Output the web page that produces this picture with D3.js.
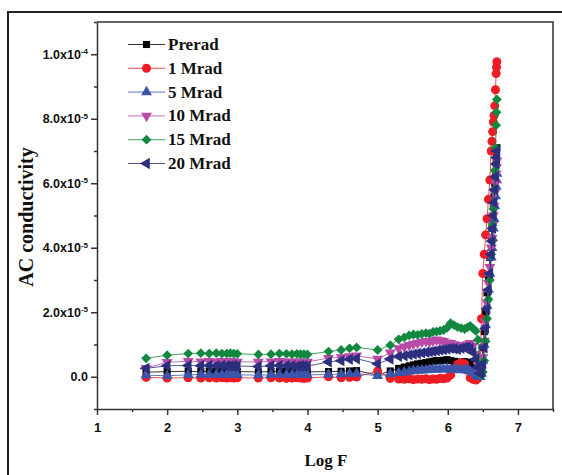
<!DOCTYPE html>
<html>
<head>
<meta charset="utf-8">
<script src="https://cdn.jsdelivr.net/npm/d3@7"></script>
<style>
  html, body { margin: 0; padding: 0; background: #fff; }
  svg { display: block; }
</style>
</head>
<body>
<svg id="chart" width="562" height="475"></svg>
<script>
// ---------------- data ----------------
const seriesNames = ["Prerad", "1 Mrad", "5 Mrad", "10 Mrad", "15 Mrad", "20 Mrad"];

// Log F values (shared by all series)
const logF = [
  1.70, 2.00, 2.30, 2.48, 2.60, 2.70, 2.78, 2.85, 2.90, 2.95, 3.00,
  3.30, 3.48, 3.60, 3.70, 3.78, 3.85, 3.90, 3.95, 4.00,
  4.30, 4.48, 4.60, 4.70,
  5.00, 5.18, 5.30, 5.38, 5.45, 5.51, 5.57, 5.63, 5.69, 5.74,
  5.79, 5.84, 5.89, 5.94, 5.99, 6.04, 6.09, 6.14, 6.19, 6.24,
  6.28, 6.32, 6.36, 6.40, 6.43,
  6.46, 6.48, 6.50, 6.52, 6.54, 6.56, 6.58, 6.60, 6.62, 6.63,
  6.64, 6.65, 6.66, 6.67, 6.68, 6.69, 6.695, 6.70
];

// AC conductivity, in units of 1e-6
const preradVals = [
  1.4, 1.6, 1.7, 1.6, 1.7, 1.6, 1.7, 1.6, 1.7, 1.6, 1.6,
  1.5, 1.6, 1.6, 1.7, 1.6, 1.6, 1.7, 1.6, 1.5,
  1.6, 1.7, 1.8, 1.9,
  0.5, 1.8, 2.6, 3.0, 3.4, 3.7, 4.0, 4.2, 4.4, 4.6,
  4.8, 5.0, 4.9, 5.1, 5.3, 5.0, 4.8, 4.6, 4.4, 4.7,
  4.5, 4.0, 3.0, 1.8, 1.0,
  0.5, 3, 9, 14, 20, 26, 31, 37, 43, 46,
  49, 53, 56, 60, 63, 67, 69, 71
];
const mrad1Vals = [
  -0.2, -0.4, -0.3, -0.4, -0.3, -0.4, -0.3, -0.4, -0.3, -0.4, -0.3,
  -0.4, -0.3, -0.4, -0.5, -0.4, -0.3, -0.4, -0.5, -0.4,
  0.0, -0.3, -0.2, -0.1,
  1.8, -0.5, -0.7, -0.8, -0.6, -0.9, -0.7, -0.8, -0.6, -0.9,
  -0.7, -0.8, -0.5, -0.6, -0.4, 0.5, 2.5, 3.8, 4.3, 4.0,
  2.0, -0.3, -0.8, -1.0, -0.5,
  3, 18, 32, 38, 44, 49, 55, 61, 70, 73,
  76, 79, 81, 84, 89, 94, 96, 97.7
];
const mrad5Vals = [
  0.5, 0.3, 0.6, 0.7, 0.6, 0.7, 0.6, 0.7, 0.6, 0.7, 0.6,
  0.5, 0.6, 0.7, 0.6, 0.7, 0.6, 0.6, 0.7, 0.6,
  0.7, 0.8, 0.9, 1.0,
  0.3, 0.8, 1.2, 1.4, 1.6, 1.8, 1.9, 2.0, 2.1, 2.2,
  2.3, 2.2, 2.4, 2.3, 2.5, 2.2, 2.4, 2.3, 2.1, 2.2,
  2.0, 1.8, 1.2, 0.6, 0.2,
  0, 1, 5, 10, 16, 22, 27, 32, 37, 40,
  43, 46, 49, 53, 56, 59, 61, 63
];
const mrad10Vals = [
  2.7, 4.5, 4.8, 4.7, 4.8, 4.7, 4.8, 4.7, 4.8, 4.7, 4.6,
  4.6, 4.7, 4.8, 4.7, 4.6, 4.7, 4.6, 4.7, 4.6,
  5.8, 6.0, 6.3, 6.5,
  5.5, 7.5, 8.8, 9.3, 9.8, 10.2, 10.5, 10.8, 11.0, 10.9,
  11.2, 11.5, 11.3, 11.0, 10.6, 10.4, 10.0, 9.8, 9.5, 9.6,
  10.0, 10.4, 9.5, 7.0, 3.5,
  1, 2, 6, 11, 17, 23, 29, 34, 40, 43,
  47, 50, 53, 57, 60, 63, 65, 67
];
const mrad15Vals = [
  5.7, 6.7, 7.2, 7.3, 7.2, 7.3, 7.2, 7.2, 7.3, 7.2, 7.1,
  6.9, 7.0, 7.2, 7.1, 7.0, 7.1, 7.0, 7.0, 6.9,
  7.8, 8.3, 8.8, 9.1,
  8.3, 9.8, 11.6, 12.2, 12.8, 13.1, 13.0, 13.3, 13.5, 13.4,
  13.9, 14.0, 14.2, 14.5, 15.2, 16.6, 16.0, 15.4, 15.1, 14.8,
  15.3, 15.8, 15.0, 14.2, 11.5,
  4, 0.5, 1.5, 5, 11, 18, 24, 30, 38, 42,
  47, 52, 58, 64, 71, 78, 82, 86
];
const mrad20Vals = [
  2.6, 3.4, 3.5, 3.4, 3.5, 3.4, 3.5, 3.4, 3.4, 3.5, 3.3,
  3.2, 3.4, 3.5, 3.4, 3.4, 3.3, 3.4, 3.4, 3.3,
  4.6, 5.0, 5.4, 5.6,
  4.0, 5.5, 6.3, 6.5, 6.8, 7.0, 7.2, 7.4, 7.6, 7.7,
  7.9, 8.1, 8.3, 8.4, 8.6, 8.8, 8.7, 8.5, 8.8, 9.0,
  9.2, 8.8, 7.5, 5.5, 3.0,
  1, 1.5, 4, 9, 15, 21, 27, 32, 38, 42,
  46, 50, 54, 58, 62, 66, 68, 70
];
const seriesVals = [preradVals, mrad1Vals, mrad5Vals, mrad10Vals, mrad15Vals, mrad20Vals];
const valueUnit = 1e-6;

const xTicks = [1, 2, 3, 4, 5, 6, 7];
const yTicks = [0, 2e-5, 4e-5, 6e-5, 8e-5, 1e-4];
const yTickMant = ["0.0", "2.0x10", "4.0x10", "6.0x10", "8.0x10", "1.0x10"];
const yTickExp = ["", "-5", "-5", "-5", "-5", "-4"];

// ---------------- style ----------------
const colors = ["#000000", "#ee1c25", "#3a55aa", "#b94aa9", "#12883f", "#2b2f7e"];
const symbols = [
  {type: d3.symbolSquare, size: 50, rot: 0},
  {type: d3.symbolCircle, size: 64, rot: 0},
  {type: d3.symbolTriangle, size: 52, rot: 0},
  {type: d3.symbolTriangle, size: 52, rot: 180},
  {type: d3.symbolSquare, size: 48, rot: 45},
  {type: d3.symbolTriangle, size: 56, rot: -90}
];

const svg = d3.select("#chart");
const L = 97, R = 553, T = 22, B = 409;
const x = d3.scaleLinear().domain([1, 7.5]).range([L, R]);
const y = d3.scaleLinear().domain([-1e-5, 1.1e-4]).range([B, T]);
const axisColor = "#333";

// outer frame
svg.append("rect").attr("x", 8).attr("y", 12).attr("width", 600).attr("height", 500)
  .attr("fill", "none").attr("stroke", "#222").attr("stroke-width", 2);

// plot frame (top & right)
svg.append("path").attr("d", `M${L},${T}H${R}V${B}`)
  .attr("fill", "none").attr("stroke", axisColor).attr("stroke-width", 1.5);

// minor ticks
const xMinor = d3.range(1.5, 7.6, 1);
const yMinor = d3.range(-1e-5, 1.11e-4, 2e-5);

const gx = svg.append("g").attr("transform", `translate(0,${B})`);
gx.call(d3.axisBottom(x).tickValues(xTicks).tickSize(6).tickSizeOuter(0).tickFormat(d3.format("d")));
gx.append("g").call(d3.axisBottom(x).tickValues(xMinor).tickSize(3).tickSizeOuter(0).tickFormat(""))
  .select(".domain").remove();
gx.selectAll("path,line").attr("stroke", axisColor).attr("stroke-width", 1.5);
gx.selectAll("text").attr("font-family", "Liberation Sans, Arial, sans-serif")
  .attr("font-weight", "bold").attr("font-size", "13px").attr("fill", "#111").attr("dy", "1.1em");

const gy = svg.append("g").attr("transform", `translate(${L},0)`);
gy.call(d3.axisLeft(y).tickValues(yTicks).tickSize(6).tickSizeOuter(0)
  .tickFormat((d, i) => yTickMant[i]));
gy.append("g").call(d3.axisLeft(y).tickValues(yMinor).tickSize(3).tickSizeOuter(0).tickFormat(""))
  .select(".domain").remove();
gy.selectAll("path,line").attr("stroke", axisColor).attr("stroke-width", 1.5);
gy.selectAll(".tick text").each(function(d) {
  const t = d3.select(this);
  const idx = yTicks.indexOf(d);
  if (idx >= 0 && yTickExp[idx]) {
    t.append("tspan").attr("dy", "-0.55em").attr("font-size", "8px").text(yTickExp[idx]);
  }
});
gy.selectAll("text").attr("font-family", "Liberation Sans, Arial, sans-serif")
  .attr("font-weight", "bold").attr("font-size", "12.5px").attr("fill", "#111").attr("x", -9);

// axis titles
svg.append("text").attr("x", 326).attr("y", 466).attr("text-anchor", "middle")
  .attr("font-family", "Liberation Serif, Times New Roman, serif").attr("font-weight", "bold")
  .attr("font-size", "17px").attr("fill", "#111").text("Log F");
svg.append("text").attr("transform", "translate(33,217) rotate(-90)").attr("text-anchor", "middle")
  .attr("font-family", "Liberation Serif, Times New Roman, serif").attr("font-weight", "bold")
  .attr("font-size", "20px").attr("fill", "#111").text("AC conductivity");

// series
const line = d3.line().x(d => x(d[0])).y(d => y(d[1] * valueUnit));
seriesVals.forEach((vals, s) => {
  const pts = logF.map((f, i) => [f, vals[i]]);
  const g = svg.append("g");
  g.append("path").attr("d", line(pts)).attr("fill", "none")
    .attr("stroke", colors[s]).attr("stroke-width", 1).attr("opacity", 0.8);
  const sym = d3.symbol().type(symbols[s].type).size(symbols[s].size);
  g.selectAll("path.m").data(pts).enter().append("path").attr("class", "m")
    .attr("d", sym)
    .attr("transform", d => `translate(${x(d[0])},${y(d[1] * valueUnit)}) rotate(${symbols[s].rot})`)
    .attr("fill", colors[s]);
});

// legend
const lg = svg.append("g");
seriesNames.forEach((name, s) => {
  const ly = 44.5 + s * 23.8;
  lg.append("line").attr("x1", 128).attr("x2", 165).attr("y1", ly).attr("y2", ly)
    .attr("stroke", colors[s]).attr("stroke-width", 1).attr("opacity", 0.8);
  const sym = d3.symbol().type(symbols[s].type).size(symbols[s].size);
  lg.append("path").attr("d", sym)
    .attr("transform", `translate(146.5,${ly}) rotate(${symbols[s].rot})`).attr("fill", colors[s]);
  lg.append("text").attr("x", 168).attr("y", ly + 5.5)
    .attr("font-family", "Liberation Serif, Times New Roman, serif").attr("font-weight", "bold")
    .attr("font-size", "17px").attr("fill", "#111").text(name);
});
</script>
</body>
</html>
